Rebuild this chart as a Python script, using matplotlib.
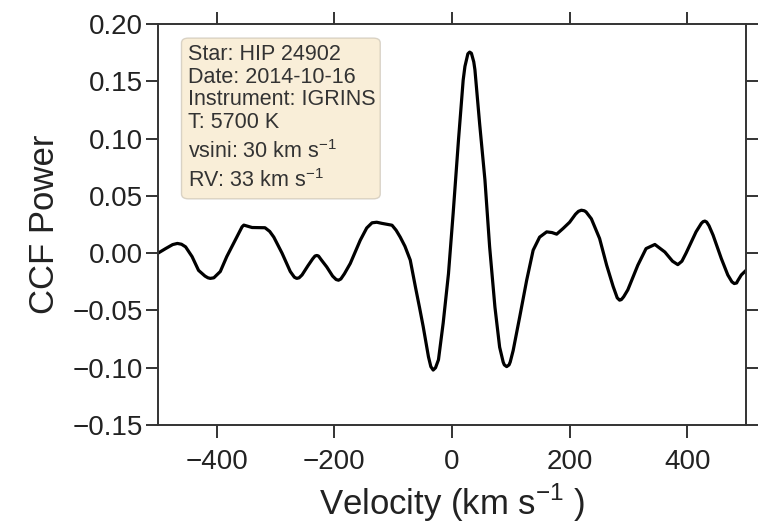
import numpy as np
import matplotlib.pyplot as plt
from matplotlib.patches import FancyBboxPatch

# cross-correlation function, velocity in km/s
velocity = [-500, -487, -475, -467, -460, -453, -442, -431, -420, -415,
            -411, -405, -394, -383, -369, -360, -357, -354, -347, -340,
            -318, -310, -303, -289, -275, -268, -264, -260, -255, -245,
            -237, -233, -230, -227, -222, -213, -203, -197, -193, -189,
            -183, -173, -156, -145, -136, -128, -119, -102, -95, -88,
            -80, -71, -62, -55, -49, -40, -36, -32, -28, -23,
            -15, -6, 2, 11, 19, 22, 27, 30, 33, 37,
            39, 47, 56, 64, 73, 81, 87, 89, 93, 97,
            99, 104, 115, 127, 138, 149, 161, 170, 178, 189,
            200, 210, 215, 220, 225, 228, 237, 251, 263, 274,
            281, 285, 288, 292, 299, 316, 330, 345, 362, 375,
            384, 391, 398, 415, 424, 427, 430, 433, 437, 444,
            458, 469, 476, 480, 484, 486, 492, 500]
ccf = [0.000, 0.004, 0.0075, 0.0085, 0.0078, 0.0055, -0.003, -0.015, -0.020, -0.0215,
       -0.022, -0.0215, -0.016, -0.003, 0.011, 0.020, 0.023, 0.0245, 0.0235, 0.0224,
       0.0222, 0.019, 0.014, 0.000, -0.016, -0.021, -0.022, -0.0215, -0.019, -0.011,
       -0.005, -0.0025, -0.002, -0.0025, -0.006, -0.012, -0.020, -0.023, -0.0236, -0.0225,
       -0.018, -0.009, 0.0113, 0.022, 0.0265, 0.027, 0.026, 0.0244, 0.020, 0.014,
       0.006, -0.006, -0.030, -0.048, -0.064, -0.0905, -0.099, -0.102, -0.100, -0.093,
       -0.061, -0.018, 0.035, 0.0986, 0.151, 0.163, 0.174, 0.1755, 0.1745, 0.167,
       0.160, 0.113, 0.064, 0.0055, -0.047, -0.082, -0.095, -0.0975, -0.099, -0.0975,
       -0.095, -0.085, -0.056, -0.0236, 0.0026, 0.014, 0.0186, 0.018, 0.0166, 0.0216,
       0.027, 0.034, 0.0365, 0.0375, 0.037, 0.036, 0.030, 0.0128, -0.0105, -0.029,
       -0.039, -0.041, -0.0405, -0.038, -0.032, -0.0105, 0.004, 0.0076, 0.001, -0.007,
       -0.010, -0.007, 0.000, 0.0186, 0.026, 0.0275, 0.028, 0.0272, 0.024, 0.0157,
       -0.0047, -0.019, -0.025, -0.0265, -0.026, -0.024, -0.019, -0.015]

info = ["Star: HIP 24902", "Date: 2014-10-16", "Instrument: IGRINS",
        "T: 5700 K", "vsini: 30 km s$^{-1}$", "RV: 33 km s$^{-1}$"]
info_y = [0.910, 0.853, 0.798, 0.741, 0.666, 0.594]

plt.rcParams['font.family'] = ['Liberation Sans', 'DejaVu Sans']
plt.rcParams['mathtext.fontset'] = 'custom'
plt.rcParams['mathtext.rm'] = 'Liberation Sans'

fig = plt.figure(figsize=(7.58, 5.28), dpi=100)
ax = fig.add_axes([0.2084, 0.195, 0.7758, 0.7595])

ax.plot(velocity, ccf, color='black', lw=2.3, solid_joinstyle='round')

ax.set_xlim(-500, 500)
ax.set_ylim(-0.15, 0.20)
ax.set_xticks([-400, -200, 0, 200, 400])
ax.set_yticks(np.arange(-0.15, 0.201, 0.05))
ax.set_xticklabels(['\u2212400', '\u2212200', '0', '200', '400'])
ax.set_yticklabels(['\u22120.15', '\u22120.10', '\u22120.05', '0.00',
                    '0.05', '0.10', '0.15', '0.20'])

for s in ax.spines.values():
    s.set_color('#333333')
    s.set_linewidth(1.4)
ax.tick_params(which='both', direction='out', length=9, width=1.4,
               color='#333333', labelcolor='#222222', labelsize=20,
               top=True, right=True)
ax.tick_params(axis='y', pad=2)
ax.tick_params(axis='x', pad=8)

ax.set_xlabel('Velocity (km s$^{-1}$ )', fontsize=25, color='#222222', labelpad=5)
ax.set_ylabel('CCF Power', fontsize=25, color='#222222', labelpad=8)

# info box
box = FancyBboxPatch((0.040, 0.564), 0.338, 0.401, transform=ax.transAxes,
                     boxstyle='round,pad=0,rounding_size=0.012',
                     facecolor='wheat', alpha=0.5, edgecolor='#b8b0a0', lw=1)
ax.add_patch(box)
for line, y in zip(info, info_y):
    ax.text(0.0516, y, line, transform=ax.transAxes, fontsize=15.5,
            color='#333333', va='baseline', ha='left')

fig.savefig('out.png', dpi=100)
